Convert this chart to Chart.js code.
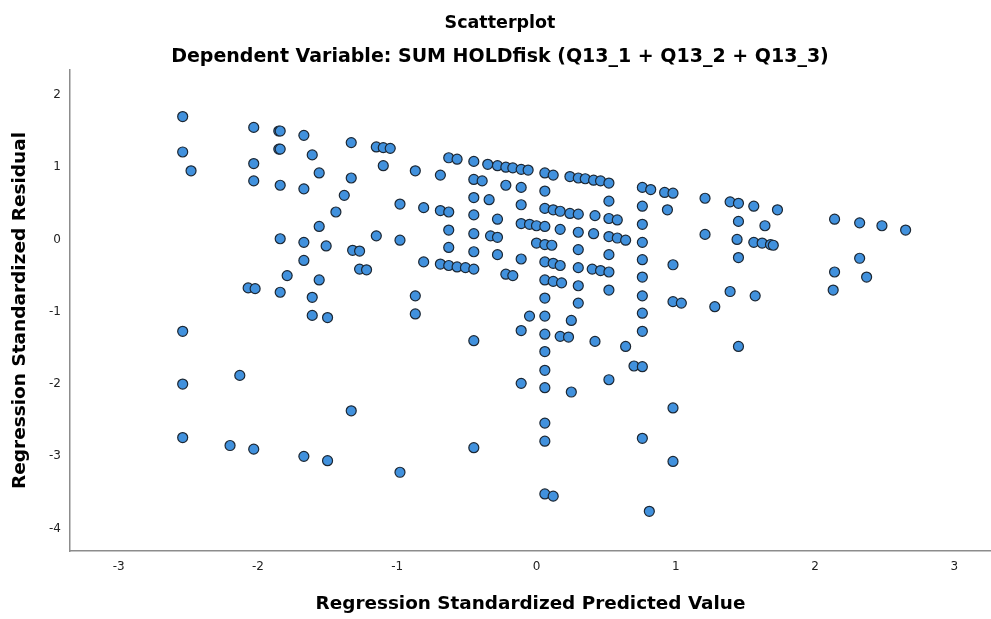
<!DOCTYPE html>
<html>
<head>
<meta charset="utf-8">
<script src="https://cdn.jsdelivr.net/npm/chart.js@4/dist/chart.umd.min.js"></script>
<style>
  html, body { margin: 0; padding: 0; background: #ffffff; }
  #wrap { width: 991px; height: 619px; }
</style>
</head>
<body>
<div id="wrap"><canvas id="chart" width="991" height="619"></canvas></div>
<script>
// Standardized predicted values (x) and standardized residuals (y), one entry per case
const predicted = [
  -2.54, -2.54, -2.48, -2.03, -1.85, -1.84, -1.67, -1.85, -1.84, -1.61,
  -2.03, -1.56, -1.33, -1.15, -1.10, -1.05, -1.10, -2.03, -1.84, -1.67,
  -1.33, -1.38, -1.44, -1.56, -1.15, -1.84, -1.67, -1.51, -1.32, -1.27,
  -1.67, -1.27, -1.22, -1.79, -1.56, -2.07, -2.02, -1.84, -1.61, -1.61,
  -1.50, -2.54, -2.54, -2.13, -1.33, -2.54, -2.20, -2.03, -1.67, -1.50,
  -0.98,
  -0.63, -0.57, -0.45, -0.35, -0.28, -0.22, -0.17, -0.11, -0.06, 0.06,
  0.12, 0.24, 0.30, 0.35, 0.41, 0.46, 0.52, 0.76, 0.82, 0.92,
  0.98, 1.21, -0.87, -0.69, -0.45, -0.39, -0.22, -0.11, 0.06, -0.45,
  -0.34, -0.11, 0.52, 0.76, 0.94, -0.98, -0.81, -0.69, -0.63, 0.06,
  0.12, 0.17, 0.24, 0.30, 0.42, 0.52, 0.58, 0.76, -0.45, -0.28,
  -0.11, -0.05, 0.00, 0.06, 0.17, 0.30, 0.41, 0.52, 0.58, 0.64,
  0.76, 1.21, -0.98, -0.63, -0.45, -0.33, -0.28, 0.00, 0.06, 0.11,
  -0.63, -0.45, -0.28, -0.11, 0.30, 0.52, 0.76, 0.98, -0.81, -0.69,
  -0.63, -0.57, -0.51, -0.45, 0.06, 0.12, 0.17, 0.30, 0.40, 0.46,
  0.52, -0.22, -0.17, 0.06, 0.12, 0.18, 0.30, 0.52, 0.76, -0.87,
  0.06, 0.30, 0.76, 0.98, 1.04, -0.87, -0.05, 0.06, 0.25, 0.76,
  -0.11, 0.06, 0.17, 0.23, 0.42, 0.64, 0.76, -0.45, 0.06, 0.70,
  0.76, 0.06, 0.52, -0.11, 0.06, 0.25, 0.98, 0.06, 0.06, 0.76,
  -0.45, 0.98, 0.06, 0.12, 0.81,
  1.39, 1.45, 1.56, 1.73, 1.45, 1.64, 1.44, 1.56, 1.62, 1.68,
  1.70, 1.45, 1.39, 1.57, 1.28, 1.45, 2.14, 2.32, 2.48, 2.65,
  2.32, 2.14, 2.37, 2.13
];
const residual = [
  1.70, 1.21, 0.95, 1.55, 1.50, 1.50, 1.44, 1.25, 1.25, 1.17,
  1.05, 0.92, 1.34, 1.28, 1.27, 1.26, 1.02, 0.81, 0.75, 0.70,
  0.85, 0.61, 0.38, 0.18, 0.05, 0.01, -0.04, -0.09, -0.15, -0.16,
  -0.29, -0.41, -0.42, -0.50, -0.56, -0.67, -0.68, -0.73, -0.80, -1.05,
  -1.08, -1.27, -2.00, -1.88, -2.37, -2.74, -2.85, -2.90, -3.00, -3.06,
  -3.22,
  1.13, 1.11, 1.08, 1.04, 1.02, 1.00, 0.99, 0.97, 0.96, 0.92,
  0.89, 0.87, 0.85, 0.84, 0.82, 0.81, 0.78, 0.72, 0.69, 0.65,
  0.64, 0.57, 0.95, 0.89, 0.83, 0.81, 0.75, 0.72, 0.67, 0.58,
  0.55, 0.48, 0.53, 0.46, 0.41, 0.49, 0.44, 0.40, 0.38, 0.43,
  0.41, 0.39, 0.36, 0.35, 0.33, 0.29, 0.27, 0.21, 0.34, 0.28,
  0.22, 0.21, 0.19, 0.18, 0.14, 0.10, 0.08, 0.04, 0.02, -0.01,
  -0.04, 0.07, -0.01, 0.13, 0.08, 0.05, 0.03, -0.05, -0.07, -0.08,
  -0.11, -0.17, -0.21, -0.27, -0.14, -0.21, -0.28, -0.35, -0.31, -0.34,
  -0.36, -0.38, -0.39, -0.41, -0.31, -0.33, -0.36, -0.39, -0.41, -0.43,
  -0.45, -0.48, -0.50, -0.56, -0.58, -0.60, -0.64, -0.70, -0.52, -0.78,
  -0.81, -0.88, -0.78, -0.86, -0.88, -1.03, -1.06, -1.06, -1.12, -1.02,
  -1.26, -1.31, -1.34, -1.35, -1.41, -1.48, -1.27, -1.40, -1.55, -1.75,
  -1.76, -1.81, -1.94, -1.99, -2.05, -2.11, -2.33, -2.54, -2.79, -2.75,
  -2.88, -3.07, -3.52, -3.55, -3.76,
  0.52, 0.50, 0.46, 0.41, 0.25, 0.19, 0.00, -0.04, -0.05, -0.07,
  -0.08, -0.25, -0.72, -0.78, -0.93, -1.48, 0.28, 0.23, 0.19, 0.13,
  -0.26, -0.45, -0.52, -0.70
];

// Axis tick values
const xTicks = [-3, -2, -1, 0, 1, 2, 3];
const yTicks = [-4, -3, -2, -1, 0, 1, 2];

const points = predicted.map((x, i) => ({ x: x, y: residual[i] }));

const FONT = "'DejaVu Sans', 'Noto Sans', sans-serif";

new Chart(document.getElementById('chart'), {
  type: 'scatter',
  data: {
    datasets: [{
      data: points,
      backgroundColor: '#4191dd',
      borderColor: '#1c2733',
      borderWidth: 1.2,
      pointRadius: 5,
      pointHoverRadius: 5
    }]
  },
  options: {
    responsive: false,
    animation: false,
    devicePixelRatio: 1,
    layout: { autoPadding: false, padding: { left: 9, right: 0, top: 0, bottom: 0 } },
    plugins: {
      legend: { display: false },
      tooltip: { enabled: false },
      title: {
        display: true,
        text: 'Scatterplot',
        color: '#000000',
        font: { family: FONT, size: 17.5, weight: 'bold', lineHeight: 1.2 },
        padding: { top: 13, bottom: 0 }
      },
      subtitle: {
        display: true,
        text: 'Dependent Variable: SUM HOLDfisk (Q13_1 + Q13_2 + Q13_3)',
        color: '#000000',
        font: { family: FONT, size: 19, weight: 'bold', lineHeight: 1.2 },
        padding: { top: 11.6, bottom: 1.6 }
      }
    },
    scales: {
      x: {
        type: 'linear',
        min: -3.349,
        max: 3.263,
        grid: { display: false, drawTicks: false },
        border: { display: true, color: '#8c8c8c', width: 1.5 },
        afterBuildTicks: (scale) => { scale.ticks = xTicks.map(v => ({ value: v })); },
        afterFit: (scale) => {
          scale.height = 68;
          // the plot runs to the right edge; no extra room for end labels
          scale.paddingLeft = 0;
          scale.paddingRight = 0;
        },
        ticks: {
          color: '#222222',
          padding: 9,
          font: { family: FONT, size: 12 },
          callback: (v) => String(v)
        },
        title: {
          display: true,
          text: 'Regression Standardized Predicted Value',
          color: '#000000',
          font: { family: FONT, size: 18.4, weight: 'bold', lineHeight: 1.2 },
          padding: { top: 0, bottom: 4 }
        }
      },
      y: {
        type: 'linear',
        min: -4.309,
        max: 2.344,
        grid: { display: false, drawTicks: false },
        border: { display: true, color: '#8c8c8c', width: 1.5 },
        afterBuildTicks: (scale) => { scale.ticks = yTicks.map(v => ({ value: v })); },
        afterFit: (scale) => {
          scale.width = 61;
          scale.paddingTop = 0;
          scale.paddingBottom = 0;
        },
        ticks: {
          color: '#222222',
          padding: 9,
          font: { family: FONT, size: 12 },
          callback: (v) => String(v)
        },
        title: {
          display: true,
          text: 'Regression Standardized Residual',
          color: '#000000',
          font: { family: FONT, size: 18.5, weight: 'bold', lineHeight: 1.2 },
          padding: { top: 0, bottom: 0 }
        }
      }
    }
  }
});
</script>
</body>
</html>
